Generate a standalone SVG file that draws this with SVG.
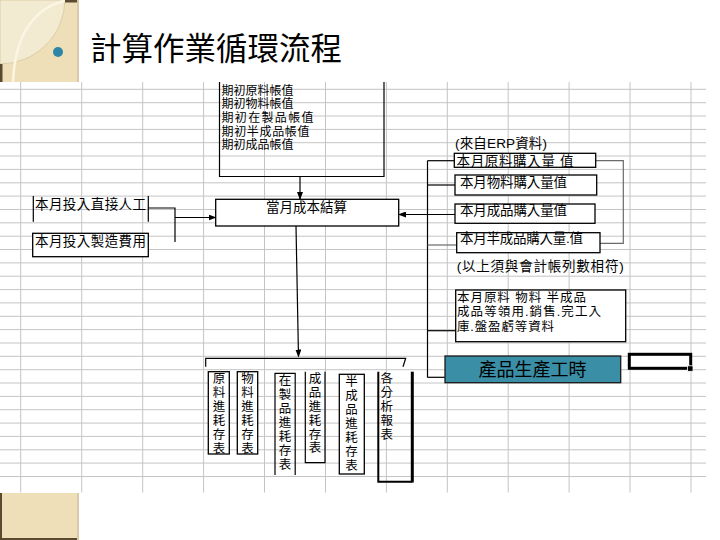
<svg xmlns="http://www.w3.org/2000/svg" width="720" height="540" viewBox="0 0 720 540">
<style>
.g{stroke:#c4c4c4;stroke-width:1;fill:none}
.b{fill:#fff;stroke:#000;stroke-width:1.3}
.ln{fill:none;stroke:#000;stroke-width:1.2}
.gl{fill:none;stroke:#6a6a6a;stroke-width:1.2}
text{font-family:"Liberation Sans","Noto Sans CJK TC",sans-serif;fill:#000}
.t12{font-size:12px}
.t13{font-size:13.5px}
.v{font-size:12.5px;text-anchor:middle}
</style>
<defs>
<marker id="ah" markerWidth="8" markerHeight="6" refX="7" refY="3" orient="auto" markerUnits="userSpaceOnUse">
<path d="M0,0 L8,3 L0,6 Z" fill="#000"/>
</marker>
</defs>
<rect width="720" height="540" fill="#fff"/>
<!-- decoration -->
<g id="corner">
<rect x="0" y="0" width="79" height="82" fill="#EEDFB8"/>
<path d="M0,0 H65 A65,65 0 0 1 0,64 Z" fill="#F3EAD2" stroke="#D6C69C" stroke-width="0.8"/>
<path d="M13,82 Q16,12 67,0" fill="none" stroke="#FBF5E3" stroke-width="2.5"/>
<rect x="65" y="0" width="12" height="2.5" fill="#5a4a30"/>
<rect x="0" y="64" width="2.5" height="18" fill="#5a4a30"/>
<rect x="77" y="0" width="2" height="82" fill="#d8cba8"/>
<circle cx="58" cy="52" r="5" fill="#2E86A6"/>
</g>
<g id="corner-bottom">
<rect x="0" y="493" width="79" height="47" fill="#EEDFB8"/>
<rect x="0" y="493" width="2" height="47" fill="#5a4a30"/>
<rect x="0" y="538" width="79" height="2" fill="#5a4a30"/>
<rect x="77" y="493" width="2" height="47" fill="#d8cba8"/>
</g>
<text x="90" y="60" style="font-size:31.5px">計算作業循環流程</text>
<!-- grid -->
<g id="grid" class="g">
<path d="M0,89.3H706M0,102.7H706M0,116H706M0,129.4H706M0,142.7H706M0,156H706M0,169.4H706M0,182.8H706M0,196.1H706M0,209.5H706M0,222.8H706M0,236.2H706M0,249.5H706M0,262.9H706M0,276.2H706M0,289.6H706M0,302.9H706M0,316.3H706M0,329.6H706M0,343H706M0,356.3H706M0,369.7H706M0,383H706M0,396.4H706M0,409.7H706M0,423.1H706M0,436.4H706M0,449.8H706M0,463.1H706M0,476.5H706"/>
<path d="M20.7,82V492.5M81.7,82V492.5M142.7,82V492.5M203.6,82V492.5M264.5,82V492.5M325.5,82V492.5M386.4,82V492.5M447.3,82V492.5M508.2,82V492.5M569.1,82V492.5M630,82V492.5M691,82V492.5"/>
</g>
<!-- connectors -->
<g id="connectors">
<line class="ln" x1="300" y1="176.5" x2="300" y2="199" marker-end="url(#ah)"/>
<polyline class="ln" points="148.3,208 175,208 175,242"/>
<line class="ln" x1="175" y1="217.5" x2="215.5" y2="217.5" marker-end="url(#ah)"/>
<line class="ln" x1="455" y1="214.5" x2="399" y2="214.5" marker-end="url(#ah)"/>
<line class="ln" x1="427.5" y1="160.7" x2="427.5" y2="377.5"/>
<line class="ln" x1="427.5" y1="160.7" x2="454.3" y2="160.7"/>
<line class="ln" x1="427.5" y1="185" x2="455" y2="185"/>
<line class="gl" x1="427.5" y1="245" x2="456.7" y2="245"/>
<line class="ln" x1="427.5" y1="330.7" x2="455.7" y2="330.7"/>
<line class="ln" x1="427.5" y1="377.3" x2="445" y2="377.3"/>
<polyline class="gl" points="595.7,160.7 623.3,160.7 623.3,243.3 600,243.3"/>
<line class="ln" x1="296" y1="226" x2="298.5" y2="356.5" marker-end="url(#ah)"/>
<path class="ln" d="M205.7,366.7V358.3H405.7L403,366.7"/>
</g>
<!-- nodes -->
<g id="opening-values">
<path class="ln" d="M219.5,82V176.5H384V82" stroke-width="1.4"/>
<text class="t12" x="221.5" y="94.8" textLength="72" lengthAdjust="spacing">期初原料帳值</text>
<text class="t12" x="221.5" y="108.3" textLength="72" lengthAdjust="spacing">期初物料帳值</text>
<text class="t12" x="221.5" y="122" textLength="92" lengthAdjust="spacing">期初在製品帳值</text>
<text class="t12" x="221.5" y="135.5" textLength="88" lengthAdjust="spacing">期初半成品帳值</text>
<text class="t12" x="221.5" y="149.3" textLength="72" lengthAdjust="spacing">期初成品帳值</text>
</g>
<g id="monthly-cost">
<rect class="b" x="215.7" y="199.3" width="183" height="26.7"/>
<text class="t13" x="306.5" y="211.5" text-anchor="middle">當月成本結算</text>
</g>
<g id="direct-labor">
<path class="ln" d="M33.3,196V221.7M148.3,196V221.7"/>
<text class="t13" x="35" y="208.7" textLength="111" lengthAdjust="spacing">本月投入直接人工</text>
</g>
<g id="overhead">
<rect class="b" x="32.7" y="233.3" width="115.6" height="23.4"/>
<text class="t13" x="35" y="246.4" textLength="111" lengthAdjust="spacing">本月投入製造費用</text>
</g>
<g id="erp-note">
<text class="t13" x="455" y="147.8" textLength="92" lengthAdjust="spacing">(來自ERP資料)</text>
</g>
<g id="raw-purchase">
<rect class="b" x="454.3" y="153.3" width="141.4" height="14"/>
<text class="t13" x="456.5" y="165.8" textLength="117" lengthAdjust="spacing">本月原料購入量 值</text>
</g>
<g id="supply-purchase">
<rect class="b" x="455" y="175" width="141.7" height="20"/>
<text class="t13" x="460" y="187.3" textLength="107" lengthAdjust="spacing">本月物料購入量值</text>
</g>
<g id="product-purchase">
<rect class="b" x="455" y="204" width="140" height="19.3"/>
<text class="t13" x="460" y="214.5" textLength="107" lengthAdjust="spacing">本月成品購入量值</text>
</g>
<g id="semi-purchase">
<rect class="b" x="456.7" y="232.7" width="143.3" height="20" stroke-width="2"/>
<text class="t13" x="460" y="243" textLength="123" lengthAdjust="spacing">本月半成品購入量.值</text>
</g>
<g id="match-note">
<text class="t13" x="456.7" y="270.5" textLength="167" lengthAdjust="spacing">(以上須與會計帳列數相符)</text>
</g>
<g id="usage-data">
<rect class="b" x="455.7" y="290" width="170" height="51.7"/>
<text x="457" y="302" style="font-size:12.5px" textLength="129" lengthAdjust="spacing">本月原料 物料 半成品</text>
<text x="457" y="316.3" style="font-size:12.5px" textLength="144" lengthAdjust="spacing">成品等領用.銷售.完工入</text>
<text x="457" y="330.6" style="font-size:12.5px" textLength="97" lengthAdjust="spacing">庫.盤盈虧等資料</text>
</g>
<g id="labor-hours">
<rect x="445" y="356" width="175.7" height="26.7" fill="#3A8EA6" stroke="#1a1a1a" stroke-width="1.3"/>
<text x="532.5" y="376" text-anchor="middle" style="font-size:18px" fill="#111">產品生產工時</text>
</g>
<g id="cell-select">
<rect x="629.3" y="354.3" width="61.4" height="14" fill="#fff" stroke="#000" stroke-width="3"/>
<rect x="687.5" y="365.8" width="5.5" height="5.5" fill="#000" stroke="#fff" stroke-width="0.8"/>
</g>
<g id="raw-report">
<rect class="b" x="208.3" y="371.7" width="21" height="82.3"/>
<text class="v" x="219"><tspan x="219" y="383">原</tspan><tspan x="219" y="397">料</tspan><tspan x="219" y="411">進</tspan><tspan x="219" y="425">耗</tspan><tspan x="219" y="439">存</tspan><tspan x="219" y="453">表</tspan></text>
</g>
<g id="supply-report">
<rect class="b" x="237.3" y="371.7" width="20.4" height="82.3"/>
<text class="v" x="247.5"><tspan x="247.5" y="383">物</tspan><tspan x="247.5" y="397">料</tspan><tspan x="247.5" y="411">進</tspan><tspan x="247.5" y="425">耗</tspan><tspan x="247.5" y="439">存</tspan><tspan x="247.5" y="453">表</tspan></text>
</g>
<g id="wip-report">
<path class="ln" d="M275,475V373.3H295.2V475" stroke-width="1.3"/>
<text class="v" x="285"><tspan x="285" y="385">在</tspan><tspan x="285" y="399">製</tspan><tspan x="285" y="413">品</tspan><tspan x="285" y="427">進</tspan><tspan x="285" y="441">耗</tspan><tspan x="285" y="455">存</tspan><tspan x="285" y="469">表</tspan></text>
</g>
<g id="product-report">
<path class="ln" d="M305.3,371.7V462.7H325V371.7" stroke-width="1.3"/>
<text class="v" x="315"><tspan x="315" y="382.5">成</tspan><tspan x="315" y="396.5">品</tspan><tspan x="315" y="410.5">進</tspan><tspan x="315" y="424.5">耗</tspan><tspan x="315" y="438.5">存</tspan><tspan x="315" y="452">表</tspan></text>
</g>
<g id="semi-report">
<rect class="b" x="339.3" y="374.3" width="25" height="99.7"/>
<text class="v" x="351.5"><tspan x="351.5" y="386">半</tspan><tspan x="351.5" y="400">成</tspan><tspan x="351.5" y="414">品</tspan><tspan x="351.5" y="428">進</tspan><tspan x="351.5" y="442">耗</tspan><tspan x="351.5" y="456">存</tspan><tspan x="351.5" y="470">表</tspan></text>
</g>
<g id="analysis-report">
<path fill="none" stroke="#000" stroke-width="2" d="M378.3,371.7V481.7H412.3"/>
<path fill="none" stroke="#000" stroke-width="3" d="M412.3,371.7V482.5"/>
<text class="v" x="386.7"><tspan x="386.7" y="382.8">各</tspan><tspan x="386.7" y="396.8">分</tspan><tspan x="386.7" y="410.8">析</tspan><tspan x="386.7" y="424.8">報</tspan><tspan x="386.7" y="438.8">表</tspan></text>
</g>
</svg>
